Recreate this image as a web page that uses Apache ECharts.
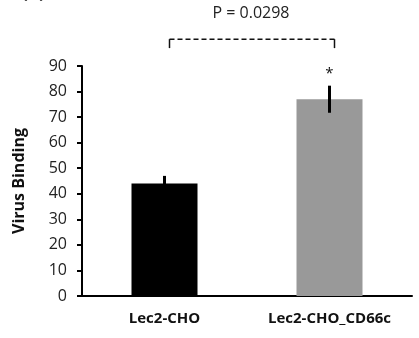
<!DOCTYPE html>
<html><head><meta charset="utf-8">
<script src="https://cdn.jsdelivr.net/npm/echarts@6/dist/echarts.min.js"></script>
<style>html,body{margin:0;padding:0;background:#fff;}#c{width:419px;height:338px;}</style>
</head><body><div id="c"></div>
<script>
var categories = ['Lec2-CHO', 'Lec2-CHO_CD66c'];
var values = [44, 77];
var errors = [3, 5.3];
var barColors = ['#000000', '#999999'];
var yTicks = [0, 10, 20, 30, 40, 50, 60, 70, 80, 90];
var pText = 'P = 0.0298';
var sigMark = '*';
var bracketTop = 100.5, bracketFoot = 97, pTextValue = 110.5;

var chart = echarts.init(document.getElementById('c'));
var font = '"Open Sans", "Liberation Sans", sans-serif';
chart.setOption({
  animation: false,
  graphic: [{type:'text', left: 22, top: -15, style:{text:'(B)', font:'bold 17px ' + font, fill:'#111'}}],
  grid: {left: 82, right: 7, top: 66, bottom: 42},
  xAxis: {
    type: 'category', data: categories,
    axisLine: {lineStyle: {color: '#000', width: 2}},
    axisTick: {show: false},
    axisLabel: {color: '#111', fontFamily: font, fontWeight: 'bold', fontSize: 15, margin: 15}
  },
  yAxis: {
    type: 'value', min: 0, max: 90, interval: 10,
    name: 'Virus Binding', nameLocation: 'middle', nameGap: 55, nameRotate: 90,
    nameTextStyle: {color: '#111', fontFamily: font, fontWeight: 'bold', fontSize: 16},
    axisLine: {show: true, lineStyle: {color: '#000', width: 2}},
    axisTick: {show: true, inside: false, length: 5, lineStyle: {color: '#000', width: 2}},
    splitLine: {show: false},
    axisLabel: {color: '#222', fontFamily: font, fontSize: 16, margin: 15,
      formatter: function (v) { return yTicks.indexOf(v) >= 0 ? String(v) : ''; }}
  },
  series: [{
    type: 'bar', barWidth: '40%', z: 2,
    data: values.map(function (v, i) { return {value: v, itemStyle: {color: barColors[i]}}; })
  }, {
    type: 'custom', clip: false, silent: true, z: 10,
    data: values.map(function (v, i) { return [i, v - errors[i], v + errors[i]]; }),
    renderItem: function (params, api) {
      var lo = api.coord([api.value(0), api.value(1)]);
      var hi = api.coord([api.value(0), api.value(2)]);
      var children = [{type: 'line', z2: 10, shape: {x1: lo[0], y1: lo[1], x2: hi[0], y2: hi[1]},
        style: {stroke: '#000', lineWidth: 3}}];
      if (params.dataIndex === 1) {
        children.push({type: 'text', style: {text: sigMark, x: hi[0], y: hi[1] - 4,
          align: 'center', verticalAlign: 'bottom', font: '15px ' + font, fill: '#111'}});
      }
      return {type: 'group', children: children};
    }
  }, {
    type: 'custom', clip: false, silent: true, z: 10,
    data: [[0, 1]],
    renderItem: function (params, api) {
      var a = api.coord([api.value(0), bracketTop]);
      var b = api.coord([api.value(1), bracketTop]);
      var af = api.coord([api.value(0), bracketFoot]);
      var bf = api.coord([api.value(1), bracketFoot]);
      var tx = (a[0] + b[0]) / 2 + 4;
      var ty = api.coord([api.value(0), pTextValue])[1];
      var dx = 5;
      return {type: 'group', children: [
        {type: 'line', shape: {x1: a[0] + dx, y1: a[1], x2: b[0] + dx, y2: b[1]},
          style: {stroke: '#111', lineWidth: 1.5, lineDash: [5, 3]}},
        {type: 'line', shape: {x1: a[0] + dx, y1: a[1], x2: af[0] + dx, y2: af[1]}, style: {stroke: '#111', lineWidth: 1.5}},
        {type: 'line', shape: {x1: b[0] + dx, y1: b[1], x2: bf[0] + dx, y2: bf[1]}, style: {stroke: '#111', lineWidth: 1.5}},
        {type: 'text', style: {text: pText, x: tx, y: ty, align: 'center', verticalAlign: 'middle',
          font: '16px ' + font, fill: '#222'}}
      ]};
    }
  }]
});
</script></body></html>
